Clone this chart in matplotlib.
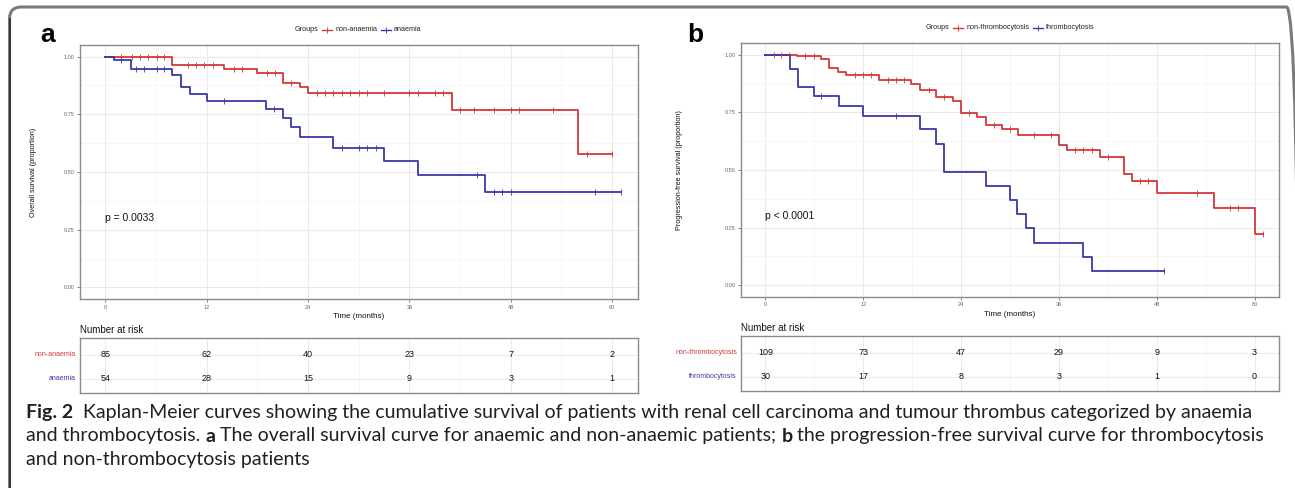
import matplotlib
matplotlib.use('Agg')
import matplotlib.pyplot as plt
from matplotlib.lines import Line2D
from matplotlib.patches import FancyBboxPatch
import matplotlib.transforms as mtransforms

# ---------------- data ----------------
risk_times = [0, 12, 24, 36, 48, 60]

# panel a : overall survival
a_groups = ['non-anaemia', 'anaemia']
a_non_ev_t = [7.9, 14.0, 18.0, 21.0, 23.0, 24.0, 41.0, 56.0]
a_non_ev_s = [0.962, 0.946, 0.929, 0.885, 0.867, 0.842, 0.768, 0.577]
a_non_cens = [1.9, 3.1, 4.1, 5.1, 6.1, 7.0, 9.8, 10.7, 11.7, 12.7, 15.2, 16.2,
              19.1, 20.1, 22.0, 25.0, 26.0, 27.0, 28.0, 29.0, 30.0, 31.0, 33.0,
              36.0, 37.0, 39.0, 40.0, 42.0, 43.7, 46.0, 48.0, 49.0, 53.0, 57.0, 60.0]
a_non_end = 60.0
a_an_ev_t = [1.0, 3.0, 7.9, 9.0, 10.0, 12.0, 19.0, 21.0, 22.0, 23.0, 27.0, 33.0, 37.0, 45.0]
a_an_ev_s = [0.985, 0.946, 0.919, 0.867, 0.836, 0.807, 0.774, 0.735, 0.694, 0.650,
             0.604, 0.546, 0.487, 0.414]
a_an_cens = [1.9, 3.6, 4.6, 6.1, 7.0, 14.0, 20.0, 28.0, 30.0, 31.0, 32.0, 44.0,
             46.0, 47.0, 48.0, 58.0, 61.0]
a_an_end = 61.0
a_risk_non = [85, 62, 40, 23, 7, 2]
a_risk_an = [54, 28, 15, 9, 3, 1]
a_pval = 'p = 0.0033'
a_ylabel = 'Overall survival (proportion)'

# panel b : progression-free survival
b_groups = ['non-thrombocytosis', 'thrombocytosis']
b_non_ev_t = [3.9, 6.8, 7.8, 8.9, 9.9, 13.9, 17.9, 18.9, 20.9, 23.0, 24.0, 26.0,
              27.0, 29.0, 31.0, 36.0, 37.0, 41.0, 44.0, 45.0, 48.0, 55.0, 60.0]
b_non_ev_s = [0.993, 0.983, 0.942, 0.926, 0.914, 0.891, 0.875, 0.849, 0.817, 0.798,
              0.746, 0.730, 0.697, 0.677, 0.653, 0.607, 0.585, 0.555, 0.484, 0.451,
              0.400, 0.335, 0.223]
b_non_cens = [1.1, 1.9, 2.9, 4.9, 5.9, 11.0, 12.0, 13.0, 15.0, 16.0, 17.0, 20.1,
              21.9, 25.0, 28.0, 30.0, 33.0, 35.0, 38.0, 39.0, 40.0, 42.0, 45.9,
              46.9, 52.9, 57.0, 58.0, 61.0]
b_non_end = 61.0
b_thr_ev_t = [3.0, 4.0, 5.9, 9.0, 12.0, 18.9, 20.9, 21.9, 27.0, 30.0, 30.9, 32.0,
              33.0, 39.0, 40.0]
b_thr_ev_s = [0.937, 0.861, 0.823, 0.777, 0.733, 0.677, 0.613, 0.490, 0.430, 0.368,
              0.307, 0.248, 0.185, 0.124, 0.062]
b_thr_cens = [6.8, 16.0, 48.9]
b_thr_end = 48.9
b_risk_non = [109, 73, 47, 29, 9, 3]
b_risk_thr = [30, 17, 8, 3, 1, 0]
b_pval = 'p < 0.0001'
b_ylabel = 'Progression-free survival (proportion)'

caption_lines = [
    [('Fig. 2', 'bold'), ('  ', 'normal'),
     ('Kaplan-Meier curves showing the cumulative survival of patients with renal cell '
      'carcinoma and tumour thrombus categorized by anaemia', 'normal')],
    [('and thrombocytosis. ', 'normal'), ('a', 'bold'),
     (' The overall survival curve for anaemic and non-anaemic patients; ', 'normal'),
     ('b', 'bold'),
     (' the progression-free survival curve for thrombocytosis', 'normal')],
    [('and non-thrombocytosis patients', 'normal')],
]

# ---------------- style ----------------
W, H = 1295, 488
RED = '#D3383A'
BLUE = '#3838AA'
plt.rcParams['font.family'] = ['Liberation Sans', 'DejaVu Sans']

fig = plt.figure(figsize=(W / 100, H / 100), dpi=100)
fig.patch.set_facecolor('white')
renderer = fig.canvas.get_renderer()


def ax_px(x0, y0, x1, y1):
    return fig.add_axes([x0 / W, 1 - y1 / H, (x1 - x0) / W, (y1 - y0) / H])


def surv_at(t, ev_t, ev_s):
    s = 1.0
    for et, es in zip(ev_t, ev_s):
        if t >= et:
            s = es
    return s


def draw_km(ax, ev_t, ev_s, cens, end, color):
    xs = [0] + list(ev_t) + [end]
    ys = [1.0] + list(ev_s) + [ev_s[-1]]
    ax.step(xs, ys, where='post', color=color, lw=1.3, zorder=3)
    cy = [surv_at(c, ev_t, ev_s) for c in cens]
    ax.plot(cens, cy, ls='none', marker='|', ms=4.5, mew=0.6, color=color, zorder=4)


def style_frame(ax):
    for sp in ax.spines.values():
        sp.set_color('#8a8a8a')
        sp.set_linewidth(1.0)
    ax.set_axisbelow(True)


def main_panel(box, curves, ylabel, pval, ypad):
    ax = ax_px(*box)
    for c in curves:
        draw_km(ax, *c)
    ax.set_xlim(-3, 63)
    ax.set_ylim(-0.05, 1.05)
    ax.set_xticks(risk_times)
    ax.set_xticks([6, 18, 30, 42, 54], minor=True)
    ax.set_yticks([0, 0.25, 0.5, 0.75, 1.0])
    ax.set_yticklabels(['0.00', '0.25', '0.50', '0.75', '1.00'])
    ax.set_yticks([0.125, 0.375, 0.625, 0.875], minor=True)
    ax.grid(which='major', color='#EAEAEA', lw=0.7)
    ax.grid(which='minor', color='#F3F3F3', lw=0.5)
    ax.tick_params(which='minor', length=0)
    ax.tick_params(which='major', length=2, width=0.5, color='#555', labelsize=4,
                   labelcolor='#666', pad=2)
    style_frame(ax)
    ax.set_xlabel('Time (months)', fontsize=5.8, labelpad=2.5, color='#111')
    ax.set_ylabel(ylabel, fontsize=5.2, labelpad=ypad, color='#111')
    ax.text(0, 0.30, pval, fontsize=7.5, ha='left', va='center', color='#111')
    return ax


def risk_table(box, rows, names, label_x, title_y):
    ax = ax_px(*box)
    ax.set_xlim(-3, 63)
    ax.set_ylim(2.59, 0.29)
    ax.set_xticks(risk_times)
    ax.set_xticks([6, 18, 30, 42, 54], minor=True)
    ax.set_yticks([1, 2])
    ax.grid(which='major', color='#EAEAEA', lw=0.7)
    ax.grid(which='minor', axis='x', color='#F3F3F3', lw=0.5)
    ax.tick_params(which='both', length=0, labelbottom=False, labelleft=False)
    style_frame(ax)
    for i, (vals, nm, col) in enumerate(zip(rows, names, [RED, BLUE])):
        for t, v in zip(risk_times, vals):
            ax.text(t, i + 1, str(v), ha='center', va='center', fontsize=6.5, color='#111')
        fig.text(label_x / W, 1 - (box[1] + (i + 1 - 0.29) / 2.3 * (box[3] - box[1])) / H,
                 nm, ha='right', va='center', fontsize=5.0, color=col)
    fig.text(box[0] / W, 1 - title_y / H, 'Number at risk', ha='left', va='center',
             fontsize=7, color='#111')
    return ax


def legend_row(xc, y, names):
    fs = 5.2
    items = []
    t = fig.text(0, 1 - y / H, 'Groups', fontsize=fs, va='center', ha='left', color='#222')
    items.append(('t', t, t.get_window_extent(renderer).width))
    for nm, col in zip(names, [RED, BLUE]):
        items.append(('gap', None, 4))
        items.append(('l', col, 10))
        items.append(('gap', None, 3))
        t = fig.text(0, 1 - y / H, nm, fontsize=fs, va='center', ha='left', color='#222')
        items.append(('t', t, t.get_window_extent(renderer).width))
    total = sum(w for _, _, w in items)
    x = xc - total / 2
    for kind, obj, w in items:
        if kind == 't':
            obj.set_x(x / W)
        elif kind == 'l':
            fig.add_artist(Line2D([x / W, (x + w) / W], [1 - y / H, 1 - y / H],
                                  color=obj, lw=1.0, transform=fig.transFigure))
            fig.add_artist(Line2D([(x + w / 2) / W], [1 - y / H], marker='|', ms=4,
                                  mew=0.6, color=obj, transform=fig.transFigure))
        x += w


# ---------------- panel a ----------------
main_panel((80, 45, 637.5, 299),
           [(a_non_ev_t, a_non_ev_s, a_non_cens, a_non_end, RED),
            (a_an_ev_t, a_an_ev_s, a_an_cens, a_an_end, BLUE)],
           a_ylabel, a_pval, 19)
risk_table((80, 338, 637.5, 393), [a_risk_non, a_risk_an], a_groups, 76, 330)
legend_row(358, 29.5, a_groups)
fig.text(48 / W, 1 - 42.5 / H, 'a', fontsize=19, fontweight='bold', ha='center',
         va='baseline', color='black')

# ---------------- panel b ----------------
main_panel((741, 43.3, 1279, 296.7),
           [(b_non_ev_t, b_non_ev_s, b_non_cens, b_non_end, RED),
            (b_thr_ev_t, b_thr_ev_s, b_thr_cens, b_thr_end, BLUE)],
           b_ylabel, b_pval, 30)
risk_table((741, 336, 1279, 391), [b_risk_non, b_risk_thr], b_groups, 737, 328)
legend_row(1010, 27.5, b_groups)
fig.text(695 / W, 1 - 42 / H, 'b', fontsize=19, fontweight='bold', ha='center',
         va='baseline', color='black')

# ---------------- caption ----------------
cap_font = ['Lato', 'DejaVu Sans']
cap_col = '#231F20'
baselines = [418, 441.5, 465]
x_start = 26
target_w = 1254 - 26


def build_caption(fs):
    objs = []
    for segs, yb in zip(caption_lines, baselines):
        line_objs = []
        for txt, wt in segs:
            t = fig.text(0, 1 - yb / H, txt, fontsize=fs, fontweight=wt, family=cap_font,
                         ha='left', va='baseline', color=cap_col)
            line_objs.append(t)
        objs.append(line_objs)
    return objs


def layout_caption(objs):
    total_widths = []
    for line_objs in objs:
        x = x_start
        for t in line_objs:
            t.set_x(x / W)
            x += t.get_window_extent(renderer).width
        total_widths.append(x - x_start)
    return total_widths


objs = build_caption(14)
tw = layout_caption(objs)
scale = target_w / tw[0]
for line_objs in objs:
    for t in line_objs:
        t.remove()
objs = build_caption(14 * scale)
layout_caption(objs)

# ---------------- frame ----------------
box = FancyBboxPatch((9.5, -30), 1289, 488 - 7 + 30,
                     boxstyle='round,pad=0,rounding_size=12',
                     transform=mtransforms.IdentityTransform(),
                     fill=False, edgecolor='#7a7a7a', lw=2.2, clip_on=False)
fig.add_artist(box)
fig.add_artist(Line2D([9.5 / W, 9.5 / W], [0, 1 - 19 / H], color='#222', lw=1.1,
                      transform=fig.transFigure))

fig.savefig('out.png', dpi=100)
